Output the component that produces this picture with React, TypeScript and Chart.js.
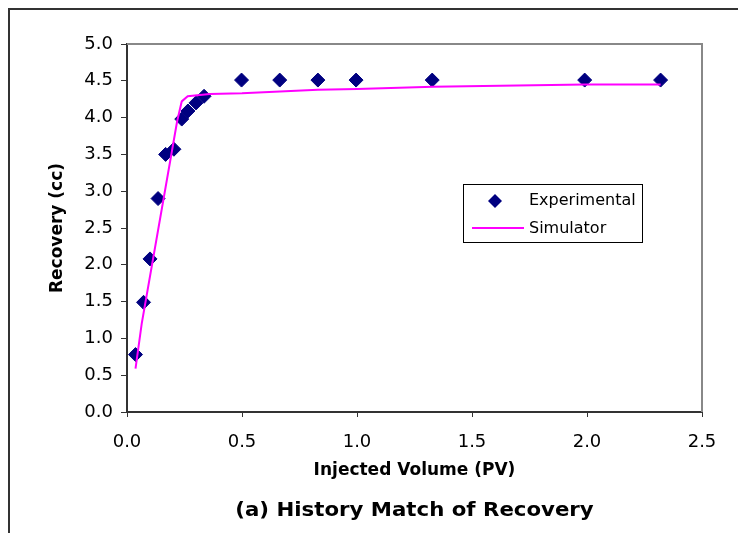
import React, { useEffect, useRef } from 'react';
import { Chart, registerables } from 'chart.js';

Chart.register(...registerables);

// ---- data ----
const expX = [0.037, 0.072, 0.1, 0.135, 0.168, 0.204, 0.238, 0.265, 0.3, 0.335, 0.498, 0.664, 0.83, 0.996, 1.327, 1.99, 2.32];
const expY = [0.78, 1.49, 2.08, 2.9, 3.5, 3.57, 3.98, 4.09, 4.2, 4.29, 4.51, 4.51, 4.51, 4.51, 4.51, 4.51, 4.51];
const simX = [0.037, 0.064, 0.218, 0.238, 0.264, 0.36, 0.5, 0.83, 1.0, 1.33, 1.99, 2.32];
const simY = [0.59, 1.2, 3.95, 4.22, 4.29, 4.32, 4.33, 4.38, 4.39, 4.42, 4.45, 4.45];
const seriesNames = ['Experimental', 'Simulator'];
const xTitle = 'Injected Volume (PV)';
const yTitle = 'Recovery (cc)';
const chartTitle = '(a) History Match of Recovery';

const FONT = '"DejaVu Sans", sans-serif';
const NAVY = '#000080';
const MAGENTA = '#FF00FF';

const W = 730;
const H = 525;

const decorPlugin = {
  id: 'decor',
  beforeDatasetsDraw(chart: any) {
    const { ctx, chartArea: a } = chart;
    ctx.save();
    ctx.strokeStyle = '#888888';
    ctx.lineWidth = 2;
    ctx.beginPath();
    ctx.moveTo(a.left, a.top);
    ctx.lineTo(a.right, a.top);
    ctx.lineTo(a.right, a.bottom);
    ctx.stroke();
    ctx.restore();
  },
  afterDraw(chart: any) {
    const { ctx, chartArea: a } = chart;
    ctx.save();
    // main title (bottom)
    ctx.fillStyle = '#000';
    ctx.font = 'bold 19px ' + FONT;
    ctx.textAlign = 'center';
    ctx.textBaseline = 'middle';
    const cx = (a.left + a.right) / 2;
    ctx.translate(cx, 503);
    ctx.scale(1.12, 1);
    ctx.fillText(chartTitle, 0, 0);
    ctx.restore();

    // legend
    ctx.save();
    const bx = 455, by = 176, bw = 179, bh = 58;
    ctx.fillStyle = '#fff';
    ctx.fillRect(bx, by, bw, bh);
    ctx.strokeStyle = '#000';
    ctx.lineWidth = 1;
    ctx.strokeRect(bx + 0.5, by + 0.5, bw, bh);
    const ds0 = chart.data.datasets[0];
    const ds1 = chart.data.datasets[1];
    // diamond
    const dx = 487, dy = 193, r = 7;
    ctx.fillStyle = ds0.backgroundColor;
    ctx.beginPath();
    ctx.moveTo(dx, dy - r);
    ctx.lineTo(dx + r, dy);
    ctx.lineTo(dx, dy + r);
    ctx.lineTo(dx - r, dy);
    ctx.closePath();
    ctx.fill();
    // line
    ctx.strokeStyle = ds1.borderColor;
    ctx.lineWidth = 2;
    ctx.beginPath();
    ctx.moveTo(464, 220);
    ctx.lineTo(516, 220);
    ctx.stroke();
    ctx.fillStyle = '#000';
    ctx.font = '16px ' + FONT;
    ctx.textAlign = 'left';
    ctx.textBaseline = 'middle';
    ctx.fillText(ds0.label, 521, 193);
    ctx.fillText(ds1.label, 521, 221);
    ctx.restore();
  },
};

export default function App() {
  const ref = useRef<HTMLCanvasElement | null>(null);

  useEffect(() => {
    if (!ref.current) return;
    const chart = new Chart(ref.current, {
      type: 'scatter',
      data: {
        datasets: [
          {
            label: seriesNames[0],
            data: expX.map((x, i) => ({ x, y: expY[i] })),
            pointStyle: 'rectRot',
            pointRadius: 7,
            pointHoverRadius: 7,
            backgroundColor: NAVY,
            borderColor: NAVY,
            borderWidth: 1,
            showLine: false,
            order: 1,
          } as any,
          {
            label: seriesNames[1],
            data: simX.map((x, i) => ({ x, y: simY[i] })),
            showLine: true,
            borderColor: MAGENTA,
            backgroundColor: MAGENTA,
            borderWidth: 2,
            pointRadius: 0,
            tension: 0,
            fill: false,
            order: 0,
          } as any,
        ],
      },
      options: {
        responsive: false,
        animation: false,
        devicePixelRatio: 1,
        layout: { padding: { top: 36, right: 36, left: 0, bottom: 0 } },
        plugins: {
          legend: { display: false },
          tooltip: { enabled: false },
          title: { display: false },
        },
        scales: {
          x: {
            type: 'linear',
            min: 0,
            max: 2.5,
            afterFit: (s: any) => { s.height = H - 404; },
            ticks: {
              stepSize: 0.5,
              color: '#000',
              font: { family: FONT, size: 18 },
              padding: 15,
              maxRotation: 0,
              callback: (v: any) => Number(v).toFixed(1),
            },
            grid: { drawOnChartArea: false, drawTicks: true, tickLength: 5, color: '#333', lineWidth: 1 },
            border: { display: true, color: '#333', width: 2 },
            title: {
              display: true,
              text: xTitle,
              color: '#000',
              font: { family: FONT, size: 17, weight: 'bold' },
              padding: { top: 0, bottom: 52 },
            },
          },
          y: {
            type: 'linear',
            min: 0,
            max: 5,
            afterFit: (s: any) => { s.width = 119; },
            ticks: {
              stepSize: 0.5,
              color: '#000',
              font: { family: FONT, size: 18 },
              padding: 8,
              callback: (v: any) => Number(v).toFixed(1),
            },
            grid: { drawOnChartArea: false, drawTicks: true, tickLength: 6, color: '#333', lineWidth: 1 },
            border: { display: true, color: '#333', width: 2 },
            title: {
              display: true,
              text: yTitle,
              color: '#000',
              font: { family: FONT, size: 17, weight: 'bold' },
              padding: { top: 39, bottom: 0 },
            },
          },
        },
      } as any,
      plugins: [decorPlugin],
    });
    return () => chart.destroy();
  }, []);

  return (
    <div style={{ position: 'fixed', left: 8, top: 8, width: W, height: H }}>
      <canvas ref={ref} width={W} height={H} style={{ position: 'absolute', left: 0, top: 0, width: W, height: H }} />
      <div
        style={{
          position: 'fixed',
          left: 8,
          top: 8,
          right: 0,
          bottom: 0,
          borderTop: '2px solid #333',
          borderLeft: '2px solid #333',
          pointerEvents: 'none',
        }}
      />
    </div>
  );
}
